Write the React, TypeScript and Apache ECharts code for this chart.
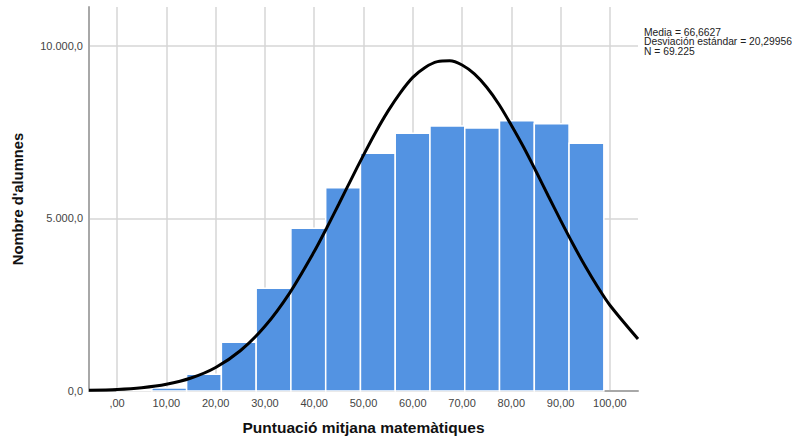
import React, { useEffect, useRef } from "react";
import * as echarts from "echarts";

// Histogram bins (edges in score units) and counts
const binEdges = [0, 7.05, 14.11, 21.16, 28.22, 35.27, 42.33, 49.38, 56.44, 63.49, 70.55, 77.6, 84.66, 91.71, 98.77];
const binCounts = [30, 90, 483, 1412, 2977, 4716, 5893, 6890, 7469, 7681, 7623, 7835, 7748, 7180];

// Normal curve points
const curveX = [-5.7, 0, 5, 10, 15, 20, 25, 30, 35, 40, 42.5, 45, 47.5, 50, 52.5, 55, 57.5, 60, 62.5, 65, 67.5, 70, 72.5, 75, 77.5, 80, 82.5, 85, 87.5, 90, 92.5, 95, 97.5, 100, 105.7];
const curveY = [20, 44, 95, 195, 376, 682, 1166, 1875, 2839, 4042, 4717, 5420, 6135, 6838, 7509, 8120, 8651, 9091, 9379, 9546, 9570, 9449, 9190, 8803, 8304, 7703, 7064, 6369, 5653, 4945, 4260, 3613, 3021, 2486, 1508];

const xTicks = [0, 10, 20, 30, 40, 50, 60, 70, 80, 90, 100];
const xTickLabels = [",00", "10,00", "20,00", "30,00", "40,00", "50,00", "60,00", "70,00", "80,00", "90,00", "100,00"];
const yTicks = [0, 5000, 10000];
const yTickLabels = ["0,0", "5.000,0", "10.000,0"];

const statsLines = ["Media = 66,6627", "Desviación estándar = 20,29956", "N = 69.225"];

const FONT = "'Liberation Sans', Arial, sans-serif";

export default function App() {
  const ref = useRef<HTMLDivElement>(null);
  useEffect(() => {
    document.body.style.margin = "0";
    const chart = echarts.init(ref.current!, null, { renderer: "svg" });
    const barData = binCounts.map((c, i) => [binEdges[i], binEdges[i + 1], c]);
    const lineData = curveX.map((x, i) => [x, curveY[i]]);
    chart.setOption({
      animation: false,
      backgroundColor: "#ffffff",
      textStyle: { fontFamily: FONT },
      grid: { left: 89, top: 7, right: 166, bottom: 47, containLabel: false, outerBoundsMode: "none" },
      xAxis: {
        type: "value",
        min: -5.7,
        max: 105.7,
        name: "Puntuació mitjana matemàtiques",
        nameLocation: "middle",
        nameGap: 28,
        nameTextStyle: { fontFamily: FONT, fontSize: 15.5, fontWeight: "bold", color: "#111" },
        axisLine: { show: true, onZero: false, lineStyle: { color: "#a8a8a8", width: 2 } },
        axisTick: { show: false, customValues: xTicks },
        axisLabel: {
          customValues: xTicks,
          margin: 6,
          fontSize: 11,
          color: "#444",
          fontFamily: FONT,
          formatter: (v: number) => {
            const i = xTicks.indexOf(Math.round(v));
            return i >= 0 ? xTickLabels[i] : "";
          },
        },
        splitLine: { show: true, lineStyle: { color: "#d6d6d6", width: 1.5 } },
      },
      yAxis: {
        type: "value",
        min: 0,
        max: 11130,
        name: "Nombre d'alumnes",
        nameLocation: "middle",
        nameGap: 64,
        nameRotate: 90,
        nameTextStyle: { fontFamily: FONT, fontSize: 14.8, fontWeight: "bold", color: "#111" },
        axisLine: { show: true, onZero: false, lineStyle: { color: "#a8a8a8", width: 2 } },
        axisTick: { show: false, customValues: yTicks },
        axisLabel: {
          customValues: yTicks,
          margin: 6,
          fontSize: 11,
          color: "#444",
          fontFamily: FONT,
          formatter: (v: number) => {
            const i = yTicks.indexOf(Math.round(v));
            return i >= 0 ? yTickLabels[i] : "";
          },
        },
        splitLine: { show: true, lineStyle: { color: "#d6d6d6", width: 1.5 } },
      },
      series: [
        {
          type: "custom",
          data: barData,
          encode: { x: [0, 1], y: 2 },
          z: 2,
          renderItem: (params: any, api: any) => {
            const p0 = api.coord([api.value(0), api.value(2)]);
            const p1 = api.coord([api.value(1), 0]);
            return {
              type: "rect",
              shape: { x: p0[0], y: p0[1], width: p1[0] - p0[0], height: p1[1] - p0[1] },
              style: { fill: "#5393E2", stroke: "#ffffff", lineWidth: 1.5 },
            };
          },
        },
        {
          type: "line",
          data: lineData,
          smooth: 0.3,
          symbol: "none",
          z: 5,
          lineStyle: { color: "#000000", width: 3 },
        },
      ],
      graphic: [
        {
          type: "text",
          left: 644,
          top: 27,
          style: {
            text: statsLines.join("\n"),
            fontSize: 10.3,
            lineHeight: 9.5,
            fontFamily: FONT,
            fill: "#222",
          },
        },
      ],
    });
    return () => chart.dispose();
  }, []);
  return <div ref={ref} style={{ width: 804, height: 438, position: "fixed", left: 0, top: 0 }} />;
}
